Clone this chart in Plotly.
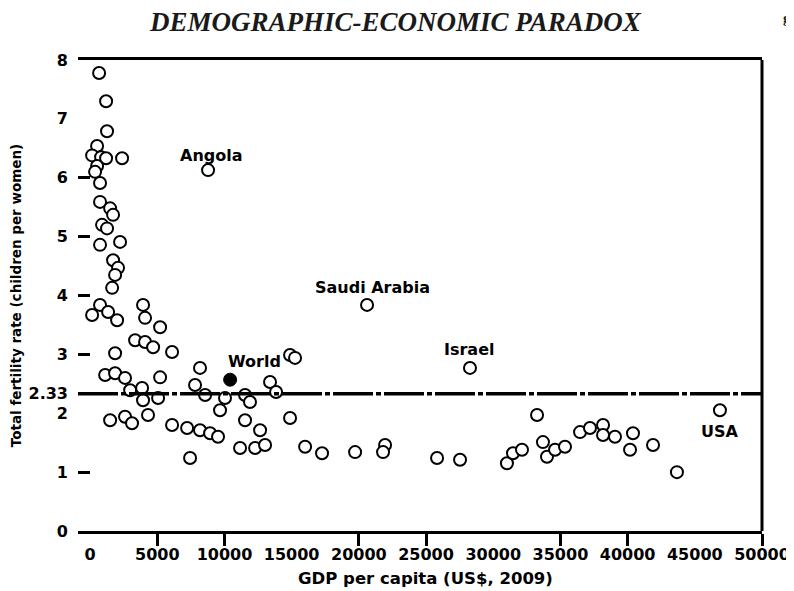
import plotly.graph_objects as go

# PIL pro capite (US$, 2009) e tasso di fecondita' totale
gdp = [670, 1190, 1260, 520, 150, 820, 2380, 1190, 520, 370,
       740, 740, 1490, 1710, 890, 1260, 2230, 740, 1710, 2080,
       1860, 1640, 740, 3940, 150, 1340, 2010, 4090, 5210, 3350,
       4090, 4690, 6100, 1860, 1120, 1860, 2600, 2980, 3870, 5210,
       3940, 5060, 1490, 2600, 3120, 4310, 6100, 7220, 7440, 8180,
       8930, 9520, 8180, 7810, 8560, 10040, 9670, 11530, 11900, 13390,
       13840, 14880, 15250, 14880, 11530, 12650, 11160, 12280, 13020, 16000,
       17260, 19720, 21950, 21800, 25820, 27530, 33260, 31020, 31470, 32140,
       33700, 34000, 34600, 35340, 36460, 37200, 38170, 38170, 39060, 40400,
       40180, 41890, 43670]
tfr = [7.78, 7.30, 6.79, 6.54, 6.38, 6.35, 6.33, 6.33, 6.20, 6.10,
       5.91, 5.59, 5.48, 5.37, 5.20, 5.14, 4.91, 4.86, 4.60, 4.47,
       4.35, 4.13, 3.84, 3.84, 3.67, 3.72, 3.58, 3.62, 3.46, 3.24,
       3.21, 3.12, 3.04, 3.02, 2.65, 2.68, 2.60, 2.39, 2.43, 2.61,
       2.22, 2.26, 1.88, 1.94, 1.83, 1.97, 1.80, 1.75, 1.24, 1.71,
       1.66, 1.60, 2.77, 2.48, 2.31, 2.26, 2.05, 2.31, 2.19, 2.53,
       2.36, 2.99, 2.94, 1.92, 1.88, 1.71, 1.41, 1.41, 1.46, 1.43,
       1.32, 1.34, 1.46, 1.34, 1.24, 1.21, 1.97, 1.15, 1.32, 1.38,
       1.51, 1.26, 1.38, 1.43, 1.68, 1.75, 1.80, 1.63, 1.60, 1.66,
       1.38, 1.46, 1.00]

# paesi etichettati
label_names = ["Angola", "Saudi Arabia", "Israel", "USA"]
label_gdp = [8780, 20610, 28270, 46870]
label_tfr = [6.13, 3.84, 2.77, 2.05]

world_gdp = 10420
world_tfr = 2.57
world_avg = 2.33

x_ticks = [0, 5000, 10000, 15000, 20000, 25000, 30000, 35000, 40000, 45000, 50000]
x_marks = [5000, 10000, 20000, 25000, 35000, 40000, 50000]   # trattini visibili
y_ticks = [0, 1, 2, 2.33, 3, 4, 5, 6, 7, 8]
y_ticktext = ["0", "1", "2", "2.33", "3", "4", "5", "6", "7", "8"]
y_marks = [0, 1, 3, 4, 5, 6]

FONT = "DejaVu Sans"

# la pagina ha 8px di margine in alto e a sinistra
W, H = 786, 583
ML, MR, MT, MB = 70, 32, 52, 60
PW, PH = W - ML - MR, H - MT - MB

fig = go.Figure()

fig.add_trace(go.Scatter(
    x=gdp + label_gdp, y=tfr + label_tfr, mode="markers",
    marker=dict(symbol="circle", size=12, color="white",
                line=dict(color="black", width=2)),
    showlegend=False))

fig.add_trace(go.Scatter(
    x=[world_gdp], y=[world_tfr], mode="markers",
    marker=dict(symbol="circle", size=13, color="black",
                line=dict(color="black", width=1)),
    showlegend=False))

# linea della media mondiale
fig.add_hline(y=world_avg, line=dict(color="black", width=3.5, dash="40px,3px,5px,3px"))

# etichette dei paesi
shifts = {"Angola": (3, 15), "Saudi Arabia": (5, 17), "Israel": (0, 18), "USA": (0, -21)}
for name, gx, gy in zip(label_names, label_gdp, label_tfr):
    dx, dy = shifts[name]
    fig.add_annotation(x=gx, y=gy, text=f"<b>{name}</b>", showarrow=False,
                       xshift=dx, yshift=dy,
                       font=dict(family=FONT, size=16, color="black"))
fig.add_annotation(x=world_gdp, y=world_tfr, text="<b>World</b>", showarrow=False,
                   xshift=24, yshift=18, font=dict(family=FONT, size=16, color="black"))

# titolo
fig.add_annotation(text="<b><i>DEMOGRAPHIC-ECONOMIC PARADOX</i></b>",
                   xref="paper", yref="paper", x=(387 - ML) / PW, y=1 + (MT - 14) / PH,
                   xanchor="center", yanchor="middle",
                   showarrow=False, font=dict(family="Liberation Serif", size=27, color="#1a1a1a"))
fig.add_annotation(text="<b>g</b>", xref="paper", yref="paper",
                   x=(W - 1 - ML) / PW, y=1 + MT / PH, xanchor="right", yanchor="top",
                   showarrow=False, font=dict(family="Liberation Serif", size=15, color="#1a1a1a"))

# titolo asse x
fig.add_annotation(text="<b>GDP per capita (US$, 2009)</b>", xref="paper", yref="paper",
                   x=(417 - ML) / PW, y=-(570 - (MT + PH)) / PH,
                   xanchor="center", yanchor="middle", showarrow=False,
                   font=dict(family=FONT, size=16.5, color="black"))

# bordo destro
fig.add_shape(type="line", xref="paper", yref="paper", x0=1, x1=1, y0=0, y1=1,
              line=dict(color="black", width=3))

fig.update_layout(
    width=W, height=H,
    margin=dict(l=ML, r=MR, t=MT, b=MB, autoexpand=False),
    plot_bgcolor="white", paper_bgcolor="white",
    font=dict(family=FONT, color="black"),
    xaxis=dict(range=[-900, 50000], tickvals=x_ticks, ticktext=[str(v) for v in x_ticks],
               showgrid=False, zeroline=False, showline=True, mirror=True,
               linecolor="black", linewidth=3, ticks="outside", ticklen=7,
               tickwidth=3, tickcolor="rgba(0,0,0,0)", ticklabeloverflow="allow",
               minor=dict(tickvals=x_marks, ticks="outside", ticklen=12,
                          tickwidth=3, tickcolor="black"),
               tickfont=dict(family=FONT, size=16, weight="bold"),
               automargin=False),
    yaxis=dict(range=[0, 8], tickvals=y_ticks, ticktext=y_ticktext,
               showgrid=False, zeroline=False, showline=False,
               ticks="inside", ticklen=12, tickwidth=3, tickcolor="rgba(0,0,0,0)",
               minor=dict(tickvals=y_marks, ticks="inside", ticklen=12,
                          tickwidth=3, tickcolor="black"),
               ticklabelstandoff=9, automargin=False,
               tickfont=dict(family=FONT, size=16, weight="bold"),
               title=dict(text="<b>Total fertility rate (children per women)</b>",
                          standoff=4, font=dict(family=FONT, size=13.5))),
)

fig.write_html("out.html")
